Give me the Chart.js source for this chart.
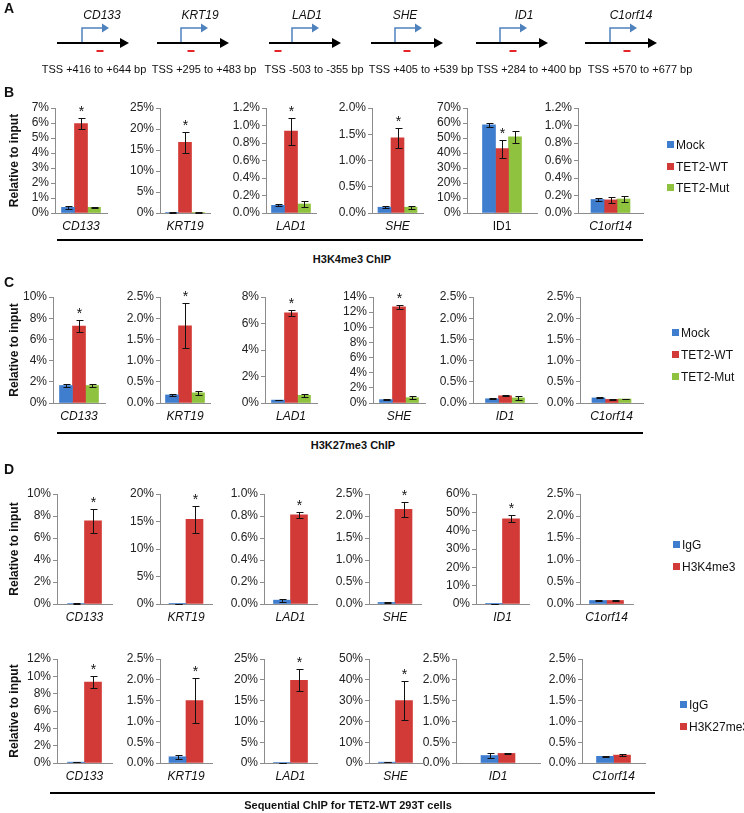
<!DOCTYPE html>
<html>
<head>
<meta charset="utf-8">
<script src="https://cdn.jsdelivr.net/npm/chart.js@4.4.1/dist/chart.umd.min.js"></script>
<style>
  body { margin: 0; background: #fff; font-family: "Liberation Sans", Arial, sans-serif; }
  #fig { position: relative; width: 744px; height: 813px; overflow: hidden; }
  .txt { position: absolute; white-space: nowrap; color: #111; }
  .letter { font-weight: bold; font-size: 14px; }
  .sect { font-weight: bold; font-size: 11px; transform: translateX(-50%); }
  .rule { position: absolute; height: 2px; background: #000; }
  .leg { position: absolute; font-size: 12px; white-space: nowrap; color: #111; line-height: 14px; }
  .leg i { display: inline-block; width: 7px; height: 7px; margin-right: 2px; vertical-align: 1px; }
</style>
</head>
<body>
<div id="fig"></div>
<script>
// ---- data ----
const genes = ["CD133", "KRT19", "LAD1", "SHE", "ID1", "C1orf14"];
const ampliconLabels = ["TSS +416 to +644 bp", "TSS +295 to +483 bp", "TSS -503 to -355 bp",
                        "TSS +405 to +539 bp", "TSS +284 to +400 bp", "TSS +570 to +677 bp"];
const chipSeries = ["Mock", "TET2-WT", "TET2-Mut"];
const seqK4Series = ["IgG", "H3K4me3"];
const seqK27Series = ["IgG", "H3K27me3"];

// B: H3K4me3 ChIP (% of input)
const bMax  = [7, 25, 1.2, 2.0, 70, 1.2];
const bStep = [1, 5, 0.2, 0.5, 10, 0.2];
const bDec  = [0, 0, 1, 1, 0, 1];
const bMock    = [0.38, 0.10, 0.088, 0.11, 58.7, 0.155];
const bMockErr = [0.10, 0.03, 0.013, 0.02, 1.5, 0.02];
const bWT      = [5.96, 16.8, 0.935, 1.43, 43.0, 0.150];
const bWTErr   = [0.37, 2.5, 0.155, 0.19, 6.0, 0.03];
const bMut     = [0.38, 0.15, 0.103, 0.11, 50.8, 0.160];
const bMutErr  = [0.03, 0.04, 0.030, 0.03, 4.0, 0.03];
const bStar    = [1, 1, 1, 1, 1, 0];

// C: H3K27me3 ChIP
const cMax  = [10, 2.5, 8, 14, 2.5, 2.5];
const cStep = [2, 0.5, 2, 2, 0.5, 0.5];
const cDec  = [0, 1, 0, 0, 1, 1];
const cMock    = [1.65, 0.19, 0.22, 0.45, 0.10, 0.12];
const cMockErr = [0.15, 0.02, 0.02, 0.04, 0.01, 0.01];
const cWT      = [7.25, 1.82, 6.80, 12.7, 0.17, 0.085];
const cWTErr   = [0.55, 0.53, 0.25, 0.30, 0.01, 0.01];
const cMut     = [1.65, 0.24, 0.58, 0.70, 0.12, 0.095];
const cMutErr  = [0.12, 0.05, 0.12, 0.20, 0.05, 0.01];
const cStar    = [1, 1, 1, 1, 0, 0];

// D (top): sequential ChIP, H3K4me3
const d1Max  = [10, 20, 1.0, 2.5, 60, 2.5];
const d1Step = [2, 5, 0.2, 0.5, 10, 0.5];
const d1Dec  = [0, 0, 1, 1, 0, 1];
const d1IgG    = [0.05, 0.05, 0.035, 0.035, 0.05, 0.08];
const d1IgGErr = [0.02, 0.02, 0.015, 0.01, 0.0, 0.01];
const d1K4     = [7.55, 15.4, 0.81, 2.15, 46.5, 0.08];
const d1K4Err  = [1.05, 2.4, 0.03, 0.17, 1.8, 0.02];
const d1Star   = [1, 1, 1, 1, 1, 0];

// D (bottom): sequential ChIP, H3K27me3
const d2Max  = [12, 2.5, 25, 50, 2.5, 2.5];
const d2Step = [2, 0.5, 5, 10, 0.5, 0.5];
const d2Dec  = [0, 1, 0, 0, 1, 1];
const d2IgG    = [0.10, 0.15, 0.10, 0.40, 0.18, 0.16];
const d2IgGErr = [0.02, 0.05, 0.02, 0.10, 0.06, 0.02];
const d2K27    = [9.35, 1.50, 19.9, 30.0, 0.23, 0.19];
const d2K27Err = [0.70, 0.54, 2.6, 9.5, 0.02, 0.02];
const d2Star   = [1, 1, 1, 1, 0, 0];

// ---- style / layout ----
const blue = "#3f7ecf", red = "#d23a37", green = "#8fc23f";
const axisGrey = "#8c8c8c";
Chart.defaults.font.family = '"Liberation Sans", Arial, sans-serif';
Chart.defaults.color = "#222";

const fig = document.getElementById("fig");

function addText(cls, text, x, y) {
  const d = document.createElement("div");
  d.className = "txt " + cls;
  d.textContent = text;
  d.style.left = x + "px";
  d.style.top = y + "px";
  fig.appendChild(d);
}

function addRule(x0, x1, y) {
  const d = document.createElement("div");
  d.className = "rule";
  d.style.cssText += `left:${x0}px;width:${x1 - x0}px;top:${y}px`;
  fig.appendChild(d);
}

function addLegend(names, colors, x, ys) {
  names.forEach((n, i) => {
    const d = document.createElement("div");
    d.className = "leg";
    d.style.left = x + "px";
    d.style.top = (ys[i] - 7) + "px";
    d.innerHTML = `<i style="background:${colors[i]}"></i>${n}`;
    fig.appendChild(d);
  });
}

// error bars + asterisk, drawn from the y scale
const errorBars = {
  id: "errorBars",
  afterDatasetsDraw(chart, args, opts) {
    const ctx = chart.ctx, ys = chart.scales.y;
    ctx.save();
    ctx.strokeStyle = "#111";
    ctx.fillStyle = "#111";
    ctx.lineWidth = 1;
    chart.data.datasets.forEach((ds, di) => {
      chart.getDatasetMeta(di).data.forEach((bar, j) => {
        const v = ds.data[j], e = opts.errs[di][j];
        const x = Math.round(bar.x) + 0.5;
        const yt = Math.round(ys.getPixelForValue(v + e)) + 0.5;
        const yb = Math.round(ys.getPixelForValue(Math.max(0, v - e))) + 0.5;
        ctx.beginPath();
        ctx.moveTo(x, yt); ctx.lineTo(x, yb);
        ctx.moveTo(x - 3, yt); ctx.lineTo(x + 4, yt);
        ctx.moveTo(x - 3, yb); ctx.lineTo(x + 4, yb);
        ctx.stroke();
        if (opts.star === di) {
          ctx.font = '14px "Liberation Sans", Arial, sans-serif';
          ctx.textAlign = "center";
          ctx.textBaseline = "alphabetic";
          ctx.fillText("*", x, yt - 3);
        }
      });
    });
    ctx.restore();
  }
};

function drawRow(row) {
  row.axis.forEach((axisX, i) => {
    const first = i === 0;
    const yW = first ? axisX : 46;
    const padTop = 18, xH = 24;
    const plotW = row.end[i] - axisX;
    const w = yW + plotW + 4;
    const h = padTop + (row.zero - row.top) + xH;
    const box = document.createElement("div");
    box.style.cssText = `position:absolute;left:${axisX - yW}px;top:${row.top - padTop}px;width:${w}px;height:${h}px`;
    const cv = document.createElement("canvas");
    box.appendChild(cv);
    fig.appendChild(box);
    new Chart(cv, {
      type: "bar",
      data: {
        labels: [genes[i]],
        datasets: row.series.map(s => ({
          label: s.name,
          data: [s.values[i]],
          backgroundColor: s.color,
          barThickness: row.barW
        }))
      },
      options: {
        animation: false,
        responsive: true,
        maintainAspectRatio: false,
        layout: { padding: { top: padTop, right: 4, left: 0, bottom: 0 } },
        plugins: {
          legend: { display: false },
          tooltip: { enabled: false },
          errorBars: {
            errs: row.series.map(s => [s.errors[i]]),
            star: row.star[i] ? row.starSeries : -1
          }
        },
        scales: {
          x: {
            grid: { display: false, drawTicks: false },
            border: { color: axisGrey },
            ticks: { padding: 6, color: "#111",
                     font: { size: 12, style: row.upright[i] ? "normal" : "italic" } },
            afterFit: s => { s.height = xH; }
          },
          y: {
            min: 0,
            max: row.max[i],
            ticks: { stepSize: row.step[i], autoSkip: false, padding: 2, color: "#222",
                     font: { size: 12 },
                     callback: v => v.toFixed(row.dec[i]) + "%" },
            grid: { drawOnChartArea: false, tickLength: 4, color: axisGrey },
            border: { color: axisGrey },
            title: first
              ? { display: true, text: "Relative to input", color: "#111",
                  font: { size: 12, weight: "bold" }, padding: { top: 7, bottom: 0 } }
              : { display: false },
            afterFit: s => { s.width = yW; }
          }
        }
      },
      plugins: [errorBars]
    });
  });
}

// ---- panel A: amplicon schematic ----
const geneLineX = [57, 157, 269, 371, 476, 585];
const tssX      = [82, 181, 292, 395, 500, 610];
const dashX     = [100, 191, 278, 407, 513, 627];
const nameX     = [102, 200, 307, 405, 524, 631];
const labelX    = [94, 204, 314, 421, 529, 640];

(function drawSchematic() {
  const cv = document.createElement("canvas");
  cv.width = 744; cv.height = 84;
  cv.style.cssText = "position:absolute;left:0;top:0";
  fig.appendChild(cv);
  const ctx = cv.getContext("2d");
  const yLine = 43, yTop = 28;
  genes.forEach((g, i) => {
    const x0 = geneLineX[i], x1 = x0 + 72;
    ctx.strokeStyle = "#000"; ctx.lineWidth = 2;
    ctx.beginPath(); ctx.moveTo(x0, yLine); ctx.lineTo(x1 - 6, yLine); ctx.stroke();
    ctx.fillStyle = "#000";
    ctx.beginPath(); ctx.moveTo(x1, yLine); ctx.lineTo(x1 - 9, yLine - 5); ctx.lineTo(x1 - 9, yLine + 5); ctx.closePath(); ctx.fill();
    const tx = tssX[i];
    ctx.strokeStyle = "#4f81bd"; ctx.lineWidth = 1.5;
    ctx.beginPath(); ctx.moveTo(tx, yLine - 1); ctx.lineTo(tx, yTop); ctx.lineTo(tx + 21, yTop); ctx.stroke();
    ctx.fillStyle = "#4f81bd";
    ctx.beginPath(); ctx.moveTo(tx + 27, yTop); ctx.lineTo(tx + 20, yTop - 4.5); ctx.lineTo(tx + 20, yTop + 4.5); ctx.closePath(); ctx.fill();
    ctx.fillStyle = "#e4262b";
    ctx.fillRect(dashX[i] - 3.5, 50, 7, 2);
    ctx.fillStyle = "#111";
    ctx.textAlign = "center"; ctx.textBaseline = "middle";
    ctx.font = 'italic 12px "Liberation Sans", Arial, sans-serif';
    ctx.fillText(g, nameX[i], 16);
    ctx.font = '11px "Liberation Sans", Arial, sans-serif';
    ctx.fillText(ampliconLabels[i], labelX[i], 70);
  });
})();

// ---- panels B, C, D ----
drawRow({
  top: 108, zero: 213, barW: 13,
  axis: [55, 160, 266, 372, 467, 578], end: [107, 210, 316, 423, 537, 643],
  max: bMax, step: bStep, dec: bDec, star: bStar, starSeries: 1,
  upright: [0, 0, 0, 0, 1, 0],
  series: [
    { name: chipSeries[0], values: bMock, errors: bMockErr, color: blue },
    { name: chipSeries[1], values: bWT, errors: bWTErr, color: red },
    { name: chipSeries[2], values: bMut, errors: bMutErr, color: green }
  ]
});

drawRow({
  top: 297, zero: 403, barW: 13,
  axis: [53, 160, 265, 373, 473, 580], end: [105, 210, 317, 425, 537, 643],
  max: cMax, step: cStep, dec: cDec, star: cStar, starSeries: 1,
  upright: [0, 0, 0, 0, 0, 0],
  series: [
    { name: chipSeries[0], values: cMock, errors: cMockErr, color: blue },
    { name: chipSeries[1], values: cWT, errors: cWTErr, color: red },
    { name: chipSeries[2], values: cMut, errors: cMutErr, color: green }
  ]
});

drawRow({
  top: 494, zero: 604, barW: 17,
  axis: [57, 160, 264, 369, 476, 580], end: [112, 212, 317, 421, 529, 633],
  max: d1Max, step: d1Step, dec: d1Dec, star: d1Star, starSeries: 1,
  upright: [0, 0, 0, 0, 0, 0],
  series: [
    { name: seqK4Series[0], values: d1IgG, errors: d1IgGErr, color: blue },
    { name: seqK4Series[1], values: d1K4, errors: d1K4Err, color: red }
  ]
});

drawRow({
  top: 659, zero: 763, barW: 17,
  axis: [57, 160, 264, 369, 456, 582], end: [112, 212, 317, 422, 540, 645],
  max: d2Max, step: d2Step, dec: d2Dec, star: d2Star, starSeries: 1,
  upright: [0, 0, 0, 0, 0, 0],
  series: [
    { name: seqK27Series[0], values: d2IgG, errors: d2IgGErr, color: blue },
    { name: seqK27Series[1], values: d2K27, errors: d2K27Err, color: red }
  ]
});

// ---- letters, rules, section titles, legends ----
addText("letter", "A", 4, 0);
addText("letter", "B", 4, 84);
addText("letter", "C", 4, 274);
addText("letter", "D", 4, 461);

addRule(57, 643, 239);
addText("sect", "H3K4me3 ChIP", 352, 253);
addRule(57, 643, 432);
addText("sect", "H3K27me3 ChIP", 353, 439);
addRule(50, 655, 792);
addText("sect", "Sequential ChIP for TET2-WT 293T cells", 348, 799);

addLegend(chipSeries, [blue, red, green], 667, [145, 167, 188]);
addLegend(chipSeries, [blue, red, green], 672, [333, 355, 377]);
addLegend(seqK4Series, [blue, red], 673, [545, 567]);
addLegend(seqK27Series, [blue, red], 680, [705, 727]);
</script>
</body>
</html>
